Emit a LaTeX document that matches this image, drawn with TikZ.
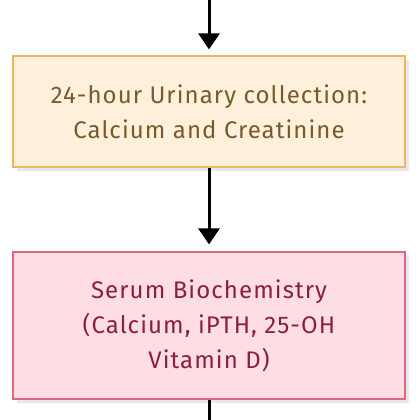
\documentclass[tikz,border=0pt]{standalone}
\usepackage{fontspec}
\setmainfont{Fira Sans}[LetterSpace=4.5]
\usetikzlibrary{arrows.meta,shadows}
\definecolor{obg}{HTML}{FFF0DB}
\definecolor{oline}{HTML}{F2B45E}
\definecolor{otext}{HTML}{7A5A2A}
\definecolor{pbg}{HTML}{FFDDE4}
\definecolor{pline}{HTML}{E06680}
\definecolor{ptext}{HTML}{8A1F40}
\definecolor{shad}{HTML}{E8E8EC}
\tikzset{
  boxnode/.style={draw, line width=1.2pt, minimum width=392pt, align=center, inner sep=0pt,
    font=\fontsize{24}{35}\selectfont,
    drop shadow={shadow xshift=4pt, shadow yshift=-4pt, fill=shad, opacity=1}},
  flow/.style={line width=3pt, -{Triangle[width=21pt,length=16pt]}},
}
\begin{document}
\begin{tikzpicture}[x=1pt,y=-1pt]
\useasboundingbox (0,0) rectangle (420,420);
\node[boxnode, fill=obg, draw=oline, text=otext, minimum height=111pt] (urine) at (209,111.5)
  {24-hour Urinary collection:\\Calcium and Creatinine};
\node[boxnode, fill=pbg, draw=pline, text=ptext, minimum height=147pt] (serum) at (209,325.5)
  {Serum Biochemistry\\(Calcium, iPTH, 25-OH\\Vitamin D)};
\coordinate (top) at (209,0);
\coordinate (bot) at (209,420);
\draw[flow] (top) -- ([yshift=6pt]urine.north);
\draw[flow] (urine.south) -- ([yshift=7pt]serum.north);
\draw[line width=3pt] (serum.south) -- (bot);
\end{tikzpicture}
\end{document}
